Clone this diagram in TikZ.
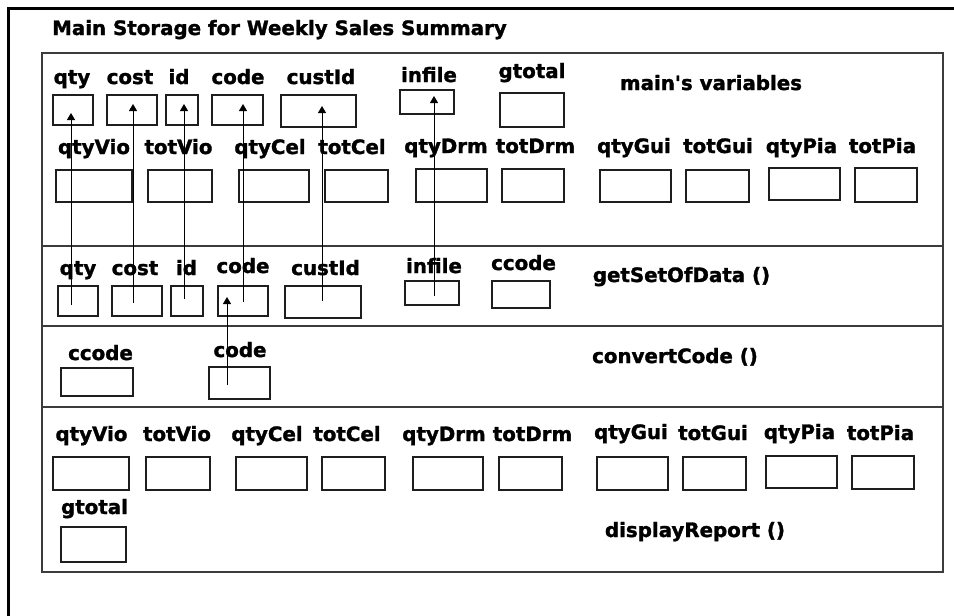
\documentclass[tikz,border=0pt]{standalone}
\usepackage{fontspec}
\setmainfont{DejaVu Sans}[BoldFeatures={FakeBold=1.5}]
\usetikzlibrary{arrows.meta,positioning}
\definecolor{frameGray}{HTML}{3C3C3C}
\definecolor{boxGray}{HTML}{1E1E1E}

\begin{document}
\begin{tikzpicture}[
    x=1pt, y=-1pt,
    varbox/.style 2 args={
      rectangle, draw=boxGray, line width=1.4pt, inner sep=0pt,
      minimum width=#1pt, minimum height=#2pt
    },
    varlbl/.style={anchor=base, inner sep=0pt, font=\fontsize{19.8pt}{21pt}\selectfont\bfseries},
    divline/.style={draw=frameGray, line width=1.3pt},
    flowarr/.style={-{Triangle[length=7pt,width=8pt]}, draw=black, line width=1pt}
  ]
    \useasboundingbox (0,0) rectangle (954,616);

    % outer frame and memory areas
    \draw[line width=3pt] (8,616) -- (8,8) -- (954,8);
    \node[varlbl, anchor=base west] (title) at (52,35) {Main Storage for Weekly Sales Summary};
    \draw[divline] (42,53) rectangle (943,572);
    \draw[divline] (42,246) -- (943,246);
    \draw[divline] (42,326) -- (943,326);
    \draw[divline] (42,407) -- (943,407);

    % main's variables
    \node[varlbl] (lmQty) at (72,84) {qty};
    \node[varlbl] (lmCost) at (130,84) {cost};
    \node[varlbl] (lmId) at (179,84) {id};
    \node[varlbl] (lmCode) at (238,84) {code};
    \node[varlbl] (lmCust) at (321,84) {custId};
    \node[varlbl] (lmInfile) at (429,82) {infile};
    \node[varlbl] (lmGtotal) at (532,78) {gtotal};
    \node[varlbl] (mainName) at (711,90) {main\textquotesingle s variables};

    \node[varbox={40}{30}] (mQty) at (73,110) {};
    \node[varbox={50}{30}] (mCost) at (132,110) {};
    \node[varbox={32}{30}] (mId) at (182,110) {};
    \node[varbox={51}{30}] (mCode) at (237.5,110) {};
    \node[varbox={75}{32}] (mCust) at (318.5,111) {};
    \node[varbox={54}{24}] (mInfile) at (427,102) {};
    \node[varbox={64}{34}] (mGtotal) at (532,110) {};

    \node[varlbl] (lmQtyVio) at (94,154) {qtyVio};
    \node[varlbl] (lmTotVio) at (178.5,154) {totVio};
    \node[varlbl] (lmQtyCel) at (270,154) {qtyCel};
    \node[varlbl] (lmTotCel) at (352,154) {totCel};
    \node[varlbl] (lmQtyDrm) at (446,153) {qtyDrm};
    \node[varlbl] (lmTotDrm) at (535.5,153) {totDrm};
    \node[varlbl] (lmQtyGui) at (634,153) {qtyGui};
    \node[varlbl] (lmTotGui) at (718,153) {totGui};
    \node[varlbl] (lmQtyPia) at (801.5,153) {qtyPia};
    \node[varlbl] (lmTotPia) at (882.5,153) {totPia};

    \node[varbox={76}{32}] (mQtyVio) at (94,186) {};
    \node[varbox={64}{32}] (mTotVio) at (180,186) {};
    \node[varbox={70}{32}] (mQtyCel) at (274,186) {};
    \node[varbox={63}{32}] (mTotCel) at (356.5,186) {};
    \node[varbox={71}{33}] (mQtyDrm) at (451.5,185.5) {};
    \node[varbox={62}{33}] (mTotDrm) at (533,185.5) {};
    \node[varbox={71}{32}] (mQtyGui) at (635.5,186) {};
    \node[varbox={63}{32}] (mTotGui) at (717.5,186) {};
    \node[varbox={71}{32}] (mQtyPia) at (804.5,184) {};
    \node[varbox={62}{34}] (mTotPia) at (886,185) {};

    % getSetOfData ()
    \node[varlbl] (lsQty) at (78,275) {qty};
    \node[varlbl] (lsCost) at (135,275) {cost};
    \node[varlbl] (lsId) at (186.5,275) {id};
    \node[varlbl] (lsCode) at (243,273) {code};
    \node[varlbl] (lsCust) at (325.5,275) {custId};
    \node[varlbl] (lsInfile) at (434,273) {infile};
    \node[varlbl] (lsCcode) at (523.5,270) {ccode};
    \node[varlbl] (getName) at (681.5,282) {getSetOfData ()};

    \node[varbox={40}{30}] (sQty) at (78,301) {};
    \node[varbox={50}{30}] (sCost) at (137,301) {};
    \node[varbox={32}{30}] (sId) at (187,301) {};
    \node[varbox={50}{30}] (sCode) at (243,301) {};
    \node[varbox={76}{32}] (sCust) at (323,302) {};
    \node[varbox={54}{24}] (sInfile) at (432,293) {};
    \node[varbox={58}{27}] (sCcode) at (521,294.5) {};

    % convertCode ()
    \node[varlbl] (lcCcode) at (100.5,360) {ccode};
    \node[varlbl] (lcCode) at (240,357) {code};
    \node[varlbl] (convName) at (675,363) {convertCode ()};

    \node[varbox={72}{28}] (cCcode) at (97,382) {};
    \node[varbox={61}{32}] (cCode) at (239.5,383) {};

    % displayReport ()
    \node[varlbl] (ldQtyVio) at (91.5,441) {qtyVio};
    \node[varlbl] (ldTotVio) at (177,441) {totVio};
    \node[varlbl] (ldQtyCel) at (267,441) {qtyCel};
    \node[varlbl] (ldTotCel) at (347,441) {totCel};
    \node[varlbl] (ldQtyDrm) at (444,441) {qtyDrm};
    \node[varlbl] (ldTotDrm) at (532.5,441) {totDrm};
    \node[varlbl] (ldQtyGui) at (631,439) {qtyGui};
    \node[varlbl] (ldTotGui) at (713,440) {totGui};
    \node[varlbl] (ldQtyPia) at (799.5,439) {qtyPia};
    \node[varlbl] (ldTotPia) at (880.5,440) {totPia};

    \node[varbox={76}{33}] (dQtyVio) at (91,473.5) {};
    \node[varbox={64}{33}] (dTotVio) at (178,473.5) {};
    \node[varbox={71}{33}] (dQtyCel) at (271.5,473.5) {};
    \node[varbox={63}{33}] (dTotCel) at (353.5,473.5) {};
    \node[varbox={70}{33}] (dQtyDrm) at (448,473.5) {};
    \node[varbox={63}{33}] (dTotDrm) at (530.5,473.5) {};
    \node[varbox={71}{33}] (dQtyGui) at (632.5,473.5) {};
    \node[varbox={63}{33}] (dTotGui) at (714.5,473.5) {};
    \node[varbox={71}{32}] (dQtyPia) at (801.5,472) {};
    \node[varbox={62}{33}] (dTotPia) at (883,472.5) {};

    \node[varlbl] (ldGtotal) at (94.5,514) {gtotal};
    \node[varbox={65}{35}] (dGtotal) at (93.5,544.5) {};
    \node[varlbl] (dispName) at (695,537) {displayReport ()};

    % parameter passing
    \draw[flowarr] ([xshift=-7pt,yshift=-4pt]sQty.center) -- ([xshift=-2pt,yshift=-3pt]mQty.center);
    \draw[flowarr] ([xshift=-4pt,yshift=-2pt]sCost.center) -- ([xshift=1pt,yshift=6pt]mCost.center);
    \draw[flowarr] ([xshift=-3pt,yshift=2pt]sId.center) -- ([xshift=2pt,yshift=6pt]mId.center);
    \draw[flowarr] ([yshift=-1pt]sCode.center) -- ([xshift=5.5pt,yshift=6pt]mCode.center);
    \draw[flowarr] ([xshift=-1pt,yshift=1pt]sCust.center) -- ([xshift=3.5pt,yshift=5pt]mCust.center);
    \draw[flowarr] ([xshift=2pt,yshift=-3pt]sInfile.center) -- ([xshift=7pt,yshift=6pt]mInfile.center);
    \draw[flowarr] ([xshift=-12.5pt,yshift=-2pt]cCode.center) -- ([xshift=-16pt,yshift=4pt]sCode.center);
\end{tikzpicture}
\end{document}
